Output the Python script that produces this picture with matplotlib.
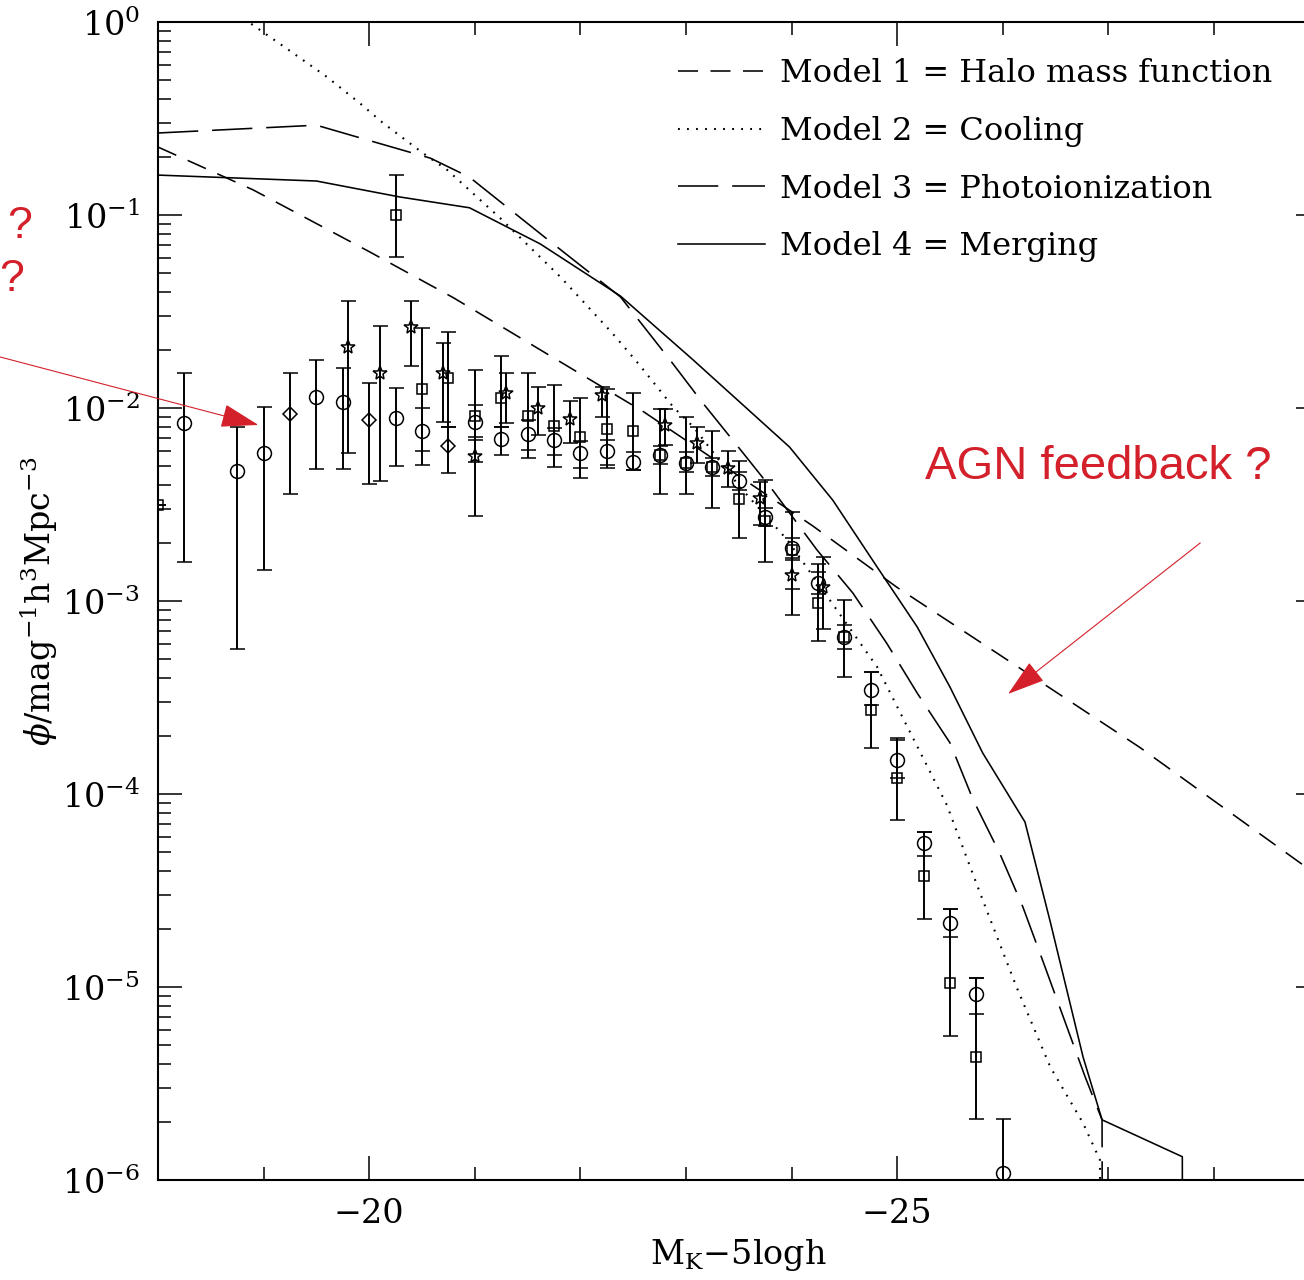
import numpy as np
import matplotlib
matplotlib.use("Agg")
import matplotlib.pyplot as plt
from matplotlib.ticker import FixedLocator, MultipleLocator, NullFormatter

plt.rcParams["font.family"] = "DejaVu Serif"
plt.rcParams["mathtext.fontset"] = "dejavuserif"
plt.rcParams["lines.scale_dashes"] = False

# ---------------- model luminosity functions ----------------
m1_mag = [-18.0, -18.9, -20.0, -20.8, -21.7, -22.6, -24.2, -25.0, -26.0, -27.3, -29.0]
m1_phi = [0.225, 0.135, 0.0646, 0.0372, 0.01884, 9.55e-3, 2.45e-3, 1.175e-3,
          5.13e-4, 1.74e-4, 3.72e-5]

m2_mag = [-18.50, -18.87, -19.28, -19.60, -19.91, -20.13, -20.51, -20.74, -21.24,
          -21.81, -22.30, -22.56, -22.88, -23.07, -23.51, -23.96, -24.81, -25.47,
          -25.81, -26.13, -26.45, -26.76, -26.92, -26.95]
m2_phi = [1.55, 0.989, 0.690, 0.519, 0.380, 0.300, 0.209, 0.171, 0.0964,
          0.0478, 0.0245, 0.0167, 0.0101, 7.98e-3, 3.90e-3, 2.07e-3, 4.55e-4, 8.77e-5,
          2.82e-5, 1.0e-5, 3.85e-6, 1.97e-6, 1.27e-6, 1e-9]

m3_mag = [-18.00, -19.50, -19.98, -20.58, -20.95, -21.66, -22.38, -22.85, -23.16,
          -23.54, -23.82, -24.24, -24.58, -24.90, -25.19, -25.50, -25.72, -25.97,
          -26.19, -26.40, -26.59, -26.78, -26.94, -26.95]
m3_phi = [0.266, 0.292, 0.245, 0.197, 0.157, 0.0769, 0.0376, 0.0177, 0.0106,
          5.85e-3, 3.76e-3, 1.84e-3, 1.10e-3, 6.05e-4, 3.33e-4, 1.84e-4, 9.31e-5, 4.94e-5,
          2.60e-5, 1.27e-5, 6.59e-6, 3.42e-6, 2.05e-6, 1e-9]

m4_mag = [-18.00, -19.50, -20.29, -20.95, -21.62, -22.38, -23.07, -23.98, -24.39,
          -24.81, -25.19, -25.50, -25.81, -26.21, -26.45, -26.76, -26.94, -27.70, -27.71]
m4_phi = [0.161, 0.150, 0.124, 0.109, 0.0708, 0.0380, 0.0177, 6.28e-3, 3.33e-3,
          1.50e-3, 7.33e-4, 3.58e-4, 1.63e-4, 7.16e-5, 2.17e-5, 4.34e-6, 2.05e-6, 1.32e-6, 1e-9]

# ---------------- observational estimates ----------------
circ_mag = [-18.25, -18.75, -19.0, -19.5, -19.75, -20.25, -20.5, -21.0, -21.25, -21.5,
            -21.75, -22.0, -22.25, -22.5, -22.75, -23.0, -23.25, -23.5, -23.75, -24.0,
            -24.25, -24.5, -24.75, -25.0, -25.25, -25.5, -25.75, -26.0]
circ_phi = [8.36e-3, 4.72e-3, 5.85e-3, 1.14e-2, 1.07e-2, 8.87e-3, 7.60e-3, 8.46e-3, 6.90e-3, 7.33e-3,
            6.83e-3, 5.85e-3, 5.98e-3, 5.25e-3, 5.71e-3, 5.19e-3, 4.94e-3, 4.19e-3, 2.72e-3, 1.88e-3,
            1.24e-3, 6.50e-4, 3.46e-4, 1.50e-4, 5.57e-5, 2.15e-5, 9.2e-6, 1.09e-6]
circ_hi = [1.52e-2, 7.97e-3, 1.01e-2, 1.77e-2, 1.61e-2, 1.27e-2, 1.0e-2, 1.04e-2, 7.97e-3, 8.67e-3,
           7.87e-3, 6.75e-3, 6.83e-3, 5.92e-3, 6.35e-3, 5.92e-3, 5.51e-3, 4.66e-3, 3.03e-3, 2.12e-3,
           1.41e-3, 7.52e-4, 4.29e-4, 1.91e-4, 6.35e-5, 2.54e-5, 1.11e-5, 2.07e-6]
circ_lo = [1.59e-3, 5.64e-4, 1.45e-3, 4.83e-3, 4.83e-3, 5.0e-3, 5.98e-3, 6.83e-3, 5.71e-3, 6.05e-3,
           5.71e-3, 4.89e-3, 5.07e-3, 4.77e-3, 5.13e-3, 4.66e-3, 4.45e-3, 3.76e-3, 2.45e-3, 1.67e-3,
           1.09e-3, 5.64e-4, 2.89e-4, 1.21e-4, 4.78e-5, 1.82e-5, 7.24e-6, 1e-7]

sq_mag = [-18.0, -20.25, -20.5, -20.75, -21.0, -21.25, -21.5, -21.75, -22.0, -22.25, -22.5,
          -22.75, -23.0, -23.25, -23.5, -23.75, -24.0, -24.25, -24.5, -24.75, -25.0,
          -25.25, -25.5, -25.75]
sq_phi = [3.14e-3, 1.0e-1, 1.25e-2, 1.43e-2, 9.1e-3, 1.13e-2, 9.1e-3, 8.07e-3, 7.08e-3, 7.78e-3, 7.60e-3,
          5.71e-3, 5.19e-3, 4.94e-3, 3.38e-3, 2.60e-3, 1.84e-3, 9.77e-4, 6.5e-4, 2.72e-4, 1.21e-4,
          3.76e-5, 1.05e-5, 4.34e-6]
sq_hi = [3.14e-3, 0.161, 2.60e-2, 2.48e-2, 1.57e-2, 1.86e-2, 1.52e-2, 1.32e-2, 1.13e-2, 1.25e-2, 1.20e-2,
         9.89e-3, 8.98e-3, 7.6e-3, 5.31e-3, 4.24e-3, 2.89e-3, 1.56e-3, 1.01e-3, 4.29e-4, 1.95e-4,
         6.35e-5, 2.54e-5, 1.11e-5]
sq_lo = [3.14e-3, 6.06e-2, 5.07e-3, 7.97e-3, 5.25e-3, 7.97e-3, 5.51e-3, 4.94e-3, 4.34e-3, 4.89e-3, 4.77e-3,
         3.58e-3, 3.58e-3, 3.03e-3, 2.12e-3, 1.59e-3, 8.45e-4, 6.21e-4, 4.04e-4, 1.73e-4, 7.33e-5,
         2.25e-5, 5.57e-6, 2.07e-6]

star_mag = [-19.8, -20.1, -20.4, -20.7, -21.0, -21.3, -21.6, -21.9, -22.2, -22.8, -23.1,
            -23.4, -23.7, -24.0, -24.3]
star_phi = [2.07e-2, 1.52e-2, 2.63e-2, 1.52e-2, 5.64e-3, 1.20e-2, 1.0e-2, 8.77e-3, 1.17e-2, 8.17e-3,
            6.59e-3, 4.89e-3, 3.42e-3, 1.36e-3, 1.18e-3]
star_hi = [3.58e-2, 2.66e-2, 3.58e-2, 2.17e-2, 7.08e-3, 1.52e-2, 1.29e-2, 1.09e-2, 1.29e-2, 9.89e-3,
           7.97e-3, 5.98e-3, 4.14e-3, 1.63e-3, 1.69e-3]
star_lo = [5.85e-3, 4.19e-3, 1.65e-2, 8.46e-3, 2.75e-3, 8.36e-3, 7.24e-3, 6.59e-3, 8.98e-3, 6.43e-3,
           5.19e-3, 3.90e-3, 2.48e-3, 1.15e-3, 7.16e-4]

dia_mag = [-19.25, -20.0, -20.75]
dia_phi = [9.31e-3, 8.67e-3, 6.35e-3]
dia_hi = [1.52e-2, 1.35e-2, 7.97e-3]
dia_lo = [3.58e-3, 4.04e-3, 4.60e-3]

x_major = [-20, -25]
y_major = [1e-6, 1e-5, 1e-4, 1e-3, 1e-2, 1e-1, 1.0]

legend_labels = ["Model 1 = Halo mass function", "Model 2 = Cooling",
                 "Model 3 = Photoionization", "Model 4 = Merging"]

RED = "#d3202a"

fig = plt.figure(figsize=(13.04, 12.80), dpi=100)
ax = fig.add_axes([158 / 1304, 100 / 1280, 1161.6 / 1304, 1158 / 1280])

lw = 1.15
ax.plot(m1_mag, m1_phi, color="k", lw=lw, dashes=(14.4, 9.0), label=legend_labels[0])
ax.plot(m2_mag, m2_phi, color="k", lw=1.5, dashes=(1.3, 5.2), label=legend_labels[1])
ax.plot(m3_mag, m3_phi, color="k", lw=lw, dashes=(29.0, 10.0), label=legend_labels[2])
ax.plot(m4_mag, m4_phi, color="k", lw=lw, label=legend_labels[3])


def points(mag, phi, lo, hi, marker, ms):
    phi = np.asarray(phi)
    yerr = [phi - np.asarray(lo), np.asarray(hi) - phi]
    ax.errorbar(mag, phi, yerr=yerr, fmt=marker, ms=ms, mfc="none", mec="k", mew=1.1,
                ecolor="k", elinewidth=1.4, capsize=5.4, capthick=1.4)


points(circ_mag, circ_phi, circ_lo, circ_hi, "o", 10)
points(sq_mag, sq_phi, sq_lo, sq_hi, "s", 7.5)
points(star_mag, star_phi, star_lo, star_hi, "*", 10)
points(dia_mag, dia_phi, dia_lo, dia_hi, "D", 7.5)

ax.set_yscale("log")
ax.set_xlim(-18, -29)
ax.set_ylim(1e-6, 1)

ax.xaxis.set_major_locator(FixedLocator(x_major))
ax.xaxis.set_minor_locator(MultipleLocator(1))
ax.yaxis.set_major_locator(FixedLocator(y_major))
y_minor = [m * d for d in y_major[:-1] for m in range(2, 10)]
ax.yaxis.set_minor_locator(FixedLocator(y_minor))
ax.yaxis.set_minor_formatter(NullFormatter())

ax.tick_params(which="both", direction="in", top=True, right=True, width=1.1,
               labelsize=24, pad=13)
ax.tick_params(which="major", length=17)
ax.tick_params(which="minor", length=9.5)
for s in ax.spines.values():
    s.set_linewidth(1.5)

ax.set_xlabel(r"M$_{\rm K}$$-$5logh", fontsize=24, labelpad=5)
ax.set_ylabel(r"$\phi$/mag$^{-1}$h$^{3}$Mpc$^{-3}$", fontsize=24, labelpad=1)

ax.legend(loc="upper left", bbox_to_anchor=(0.4477, 0.9690), frameon=False, fontsize=23,
          handlelength=2.72, handletextpad=0.47, labelspacing=0.84,
          borderpad=0, borderaxespad=0)

# annotations
ax.annotate("", xy=(-18.95, 8.17e-3), xytext=(-16.22, 2.02e-2), annotation_clip=False,
            arrowprops=dict(arrowstyle="-|>,head_length=2.4,head_width=0.75", color=RED,
                            lw=0.8, shrinkA=0, shrinkB=0))
ax.annotate("", xy=(-26.05, 3.30e-4), xytext=(-27.87, 2.0e-3), annotation_clip=False,
            arrowprops=dict(arrowstyle="-|>,head_length=2.4,head_width=0.75", color=RED,
                            lw=0.8, shrinkA=0, shrinkB=0))
ax.text(-25.26, 4.94e-3, "AGN feedback ?", color=RED, fontsize=34, family="Liberation Sans",
        ha="left", va="center")
ax.text(-16.81, 8.77e-2, "?", color=RED, fontsize=32, family="Liberation Sans",
        ha="right", va="center", clip_on=False)
ax.text(-16.50, 4.66e-2, "?", color=RED, fontsize=32, family="Liberation Sans",
        ha="left", va="center", clip_on=False)

fig.savefig("out.png", dpi=100)
